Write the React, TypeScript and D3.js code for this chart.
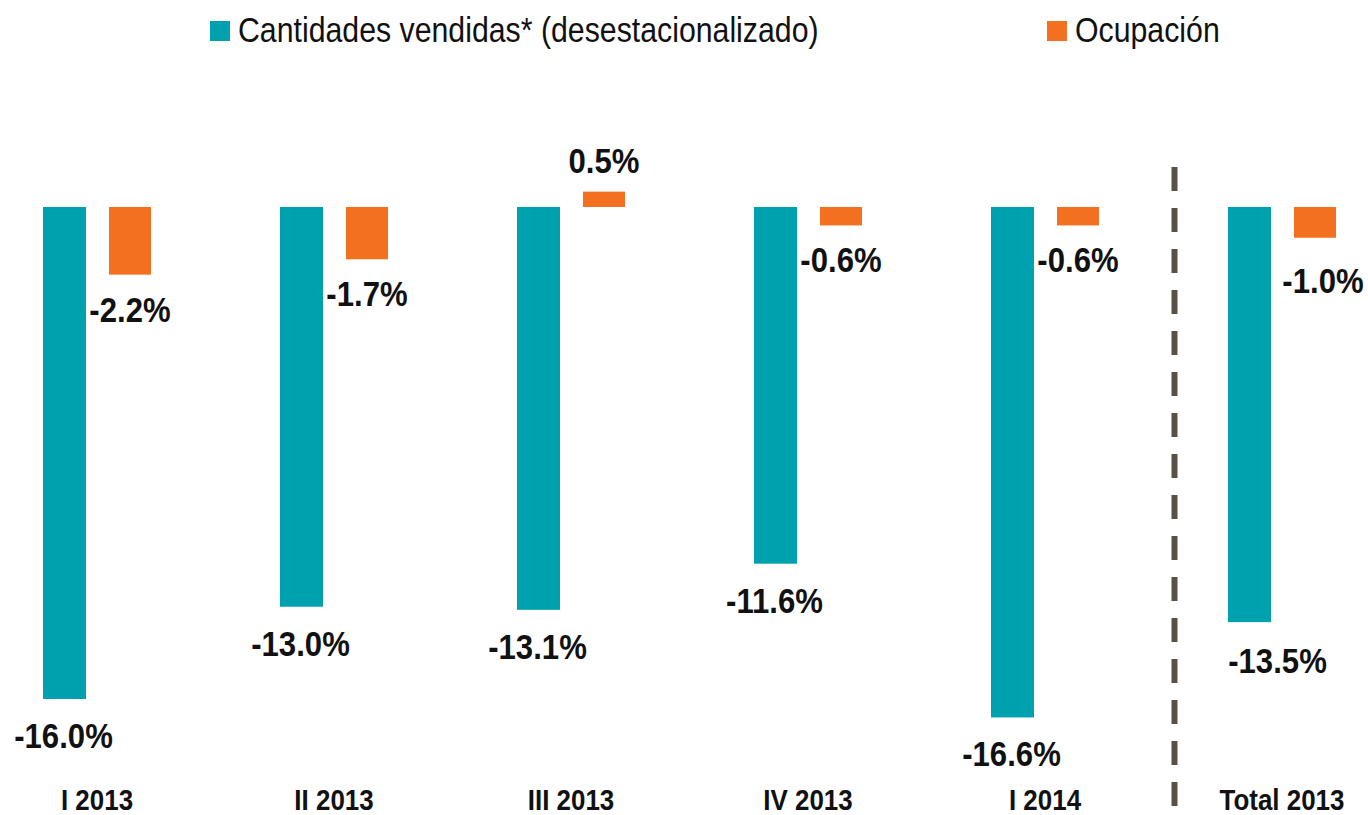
import React from "react";
import * as d3 from "d3";

const categories = ["I 2013", "II 2013", "III 2013", "IV 2013", "I 2014", "Total 2013"];
const ventas = [-16.0, -13.0, -13.1, -11.6, -16.6, -13.5];
const ocupacion = [-2.2, -1.7, 0.5, -0.6, -0.6, -1.0];
const seriesNames = ["Cantidades vendidas* (desestacionalizado)", "Ocupación"];

const W = 1368;
const H = 815;
const TEAL = "#00A1AF";
const ORANGE = "#F37021";
const FONT = "'Liberation Sans', Arial, sans-serif";
const SX = 0.865;

// label placement tweaks (styling only) for the summary group
const summaryNudge = { teal: [29, 2], orange: [8, 8] };

function T(props: { x: number; y: number; size: number; bold?: boolean; anchor?: string; children: React.ReactNode }) {
  return (
    <text
      transform={`translate(${props.x},${props.y}) scale(${SX},1)`}
      textAnchor={props.anchor || "start"}
      fontSize={props.size}
      fontWeight={props.bold ? "bold" : "normal"}
      fill="#111"
    >
      {props.children}
    </text>
  );
}

export default function App() {
  const x = d3.scaleBand<string>().domain(categories).range([-4, -4 + 237 * 6]);
  const y = d3.scaleLinear().domain([0, -16.6]).range([207, 207 + 16.6 * 30.75]);
  const tealX = (c: string) => (x(c) as number) + 47;
  const orangeX = (c: string) => (x(c) as number) + 47 + 66;
  const bw = 43;
  const ow = 42;
  const fmt = (v: number) => `${v.toFixed(1)}%`;
  const dashX = 1174.5;
  const last = categories.length - 1;

  return (
    <svg width={W} height={H} style={{ position: "absolute", left: 0, top: 0, background: "#fff" }} fontFamily={FONT}>
      {/* legend */}
      <rect x={210} y={21} width={20} height={20} fill={TEAL} />
      <T x={238} y={42} size={35}>{seriesNames[0]}</T>
      <rect x={1047} y={21} width={20} height={20} fill={ORANGE} />
      <T x={1075} y={42} size={35}>{seriesNames[1]}</T>

      {/* divider */}
      <line x1={dashX} x2={dashX} y1={167} y2={815} stroke="#595048" strokeWidth={6} strokeDasharray="24 17" />

      {categories.map((c, i) => {
        const tv = ventas[i];
        const ov = ocupacion[i];
        const tx = tealX(c);
        const ox = orangeX(c);
        const oy0 = Math.min(y(0), y(ov));
        const oh = Math.abs(y(ov) - y(0));
        const ty1 = y(tv);
        const tn = i === last ? summaryNudge.teal : [0, 0];
        const on = i === last ? summaryNudge.orange : [0, 0];
        return (
          <g key={c}>
            <rect x={tx} y={y(0)} width={bw} height={ty1 - y(0)} fill={TEAL} />
            <rect x={ox} y={oy0} width={ow} height={oh} fill={ORANGE} />
            <T x={tx + bw / 2 - 1 + tn[0]} y={ty1 + 49 + tn[1]} anchor="middle" size={36} bold>{fmt(tv)}</T>
            <T x={ox + ow / 2 + on[0]} y={(ov >= 0 ? y(ov) - 19 : y(ov) + 47) + on[1]} anchor="middle" size={36} bold>{fmt(ov)}</T>
            <T x={tx + (ox + ow - tx) / 2} y={810} anchor="middle" size={30} bold>{c}</T>
          </g>
        );
      })}
    </svg>
  );
}
